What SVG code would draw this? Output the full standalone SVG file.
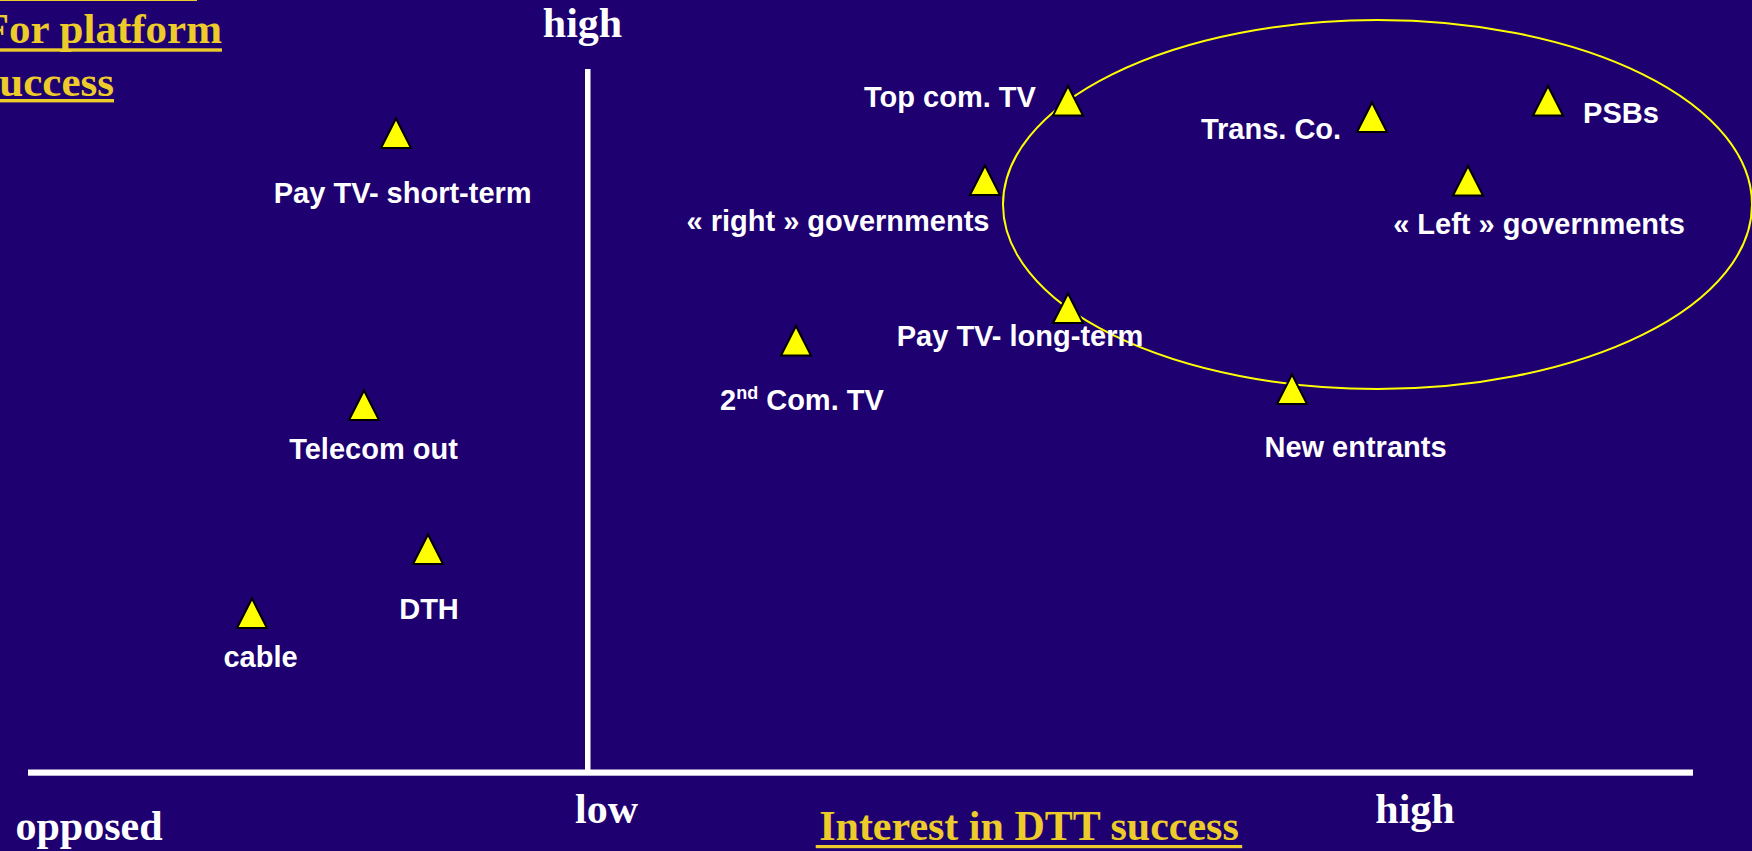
<svg xmlns="http://www.w3.org/2000/svg" xmlns:xlink="http://www.w3.org/1999/xlink" width="1752" height="851" viewBox="0 0 1752 851">
  <style>
    .serif { font-family: "Liberation Serif", "Times New Roman", serif; font-weight: bold; }
    .axis-label { font-size: 42px; fill: #ffffff; }
    .title { font-size: 43px; fill: #eccb2a; }
    .label { font-family: "Liberation Sans", Arial, sans-serif; font-weight: bold; font-size: 29px; fill: #ffffff; text-anchor: middle; }
    .label.left { text-anchor: start; }
    .gold { fill: #eccb2a; }
    .axis { fill: #ffffff; }
    .mark { fill: #ffff00; stroke: #000000; stroke-width: 2; stroke-linejoin: miter; }
  </style>
  <defs>
    <!-- marker triangle, origin at the middle of its base -->
    <path id="tri" class="mark" d="M0,-29.5 L15,0 L-15,0 Z"/>
  </defs>

  <rect x="0" y="0" width="1752" height="851" fill="#1e0070"/>

  <!-- vertical title, top-left -->
  <g id="title">
    <rect class="gold" x="0" y="-1" width="197" height="2"/>
    <text class="serif title" x="222" y="43" text-anchor="end">For platform</text>
    <rect class="gold" x="0" y="48.3" width="222" height="3.4"/>
    <text class="serif title" x="114" y="96" text-anchor="end">success</text>
    <rect class="gold" x="0" y="99" width="114" height="3.4"/>
  </g>

  <!-- axes -->
  <g id="axes">
    <rect class="axis" x="585" y="69" width="5.5" height="704"/>
    <rect class="axis" x="28" y="769.5" width="1665" height="6.2"/>
    <text class="serif axis-label" x="582.5" y="37" text-anchor="middle">high</text>
    <text class="serif axis-label" x="606.5" y="823" text-anchor="middle">low</text>
    <text class="serif axis-label" x="1415" y="823" text-anchor="middle">high</text>
    <text class="serif axis-label" x="89" y="840" text-anchor="middle">opposed</text>
    <text class="serif axis-label gold" x="1029" y="840" text-anchor="middle" font-size="42.5">Interest in DTT success</text>
    <rect class="gold" x="815.7" y="845" width="426.5" height="3.2"/>
  </g>

  <!-- grouping ellipse -->
  <g id="connectors">
    <ellipse cx="1377.5" cy="204.5" rx="374.5" ry="184.5" fill="none" stroke="#ffff00" stroke-width="2"/>
  </g>

  <g id="pay-tv-short">
    <use xlink:href="#tri" x="396" y="148"/>
    <text class="label" x="402.7" y="202.7">Pay TV- short-term</text>
  </g>
  <g id="telecom-out">
    <use xlink:href="#tri" x="364" y="420"/>
    <text class="label" x="373.5" y="459.3">Telecom out</text>
  </g>
  <g id="dth">
    <use xlink:href="#tri" x="428" y="564"/>
    <text class="label" x="429" y="619.3">DTH</text>
  </g>
  <g id="cable">
    <use xlink:href="#tri" x="252" y="628"/>
    <text class="label" x="260.5" y="666.7">cable</text>
  </g>
  <g id="top-com-tv">
    <use xlink:href="#tri" x="1068" y="115.5"/>
    <text class="label" x="950" y="106.7">Top com. TV</text>
  </g>
  <g id="right-governments">
    <use xlink:href="#tri" x="985" y="195"/>
    <text class="label" x="838" y="231">« right » governments</text>
  </g>
  <g id="trans-co">
    <use xlink:href="#tri" x="1372" y="132"/>
    <text class="label" x="1271" y="139.3">Trans. Co.</text>
  </g>
  <g id="psbs">
    <use xlink:href="#tri" x="1548" y="115.5"/>
    <text class="label" x="1621" y="122.7">PSBs</text>
  </g>
  <g id="left-governments">
    <use xlink:href="#tri" x="1468" y="195.5"/>
    <text class="label" x="1539" y="234">« Left » governments</text>
  </g>
  <g id="pay-tv-long">
    <use xlink:href="#tri" x="1068" y="323"/>
    <text class="label" x="1020" y="345.5">Pay TV- long-term</text>
  </g>
  <g id="new-entrants">
    <use xlink:href="#tri" x="1292" y="404"/>
    <text class="label" x="1355.5" y="457">New entrants</text>
  </g>
  <g id="second-com-tv">
    <use xlink:href="#tri" x="796" y="355.5"/>
    <text class="label left" x="720" y="410">2<tspan font-size="18" dy="-11">nd</tspan><tspan dy="11"> Com. TV</tspan></text>
  </g>
</svg>
